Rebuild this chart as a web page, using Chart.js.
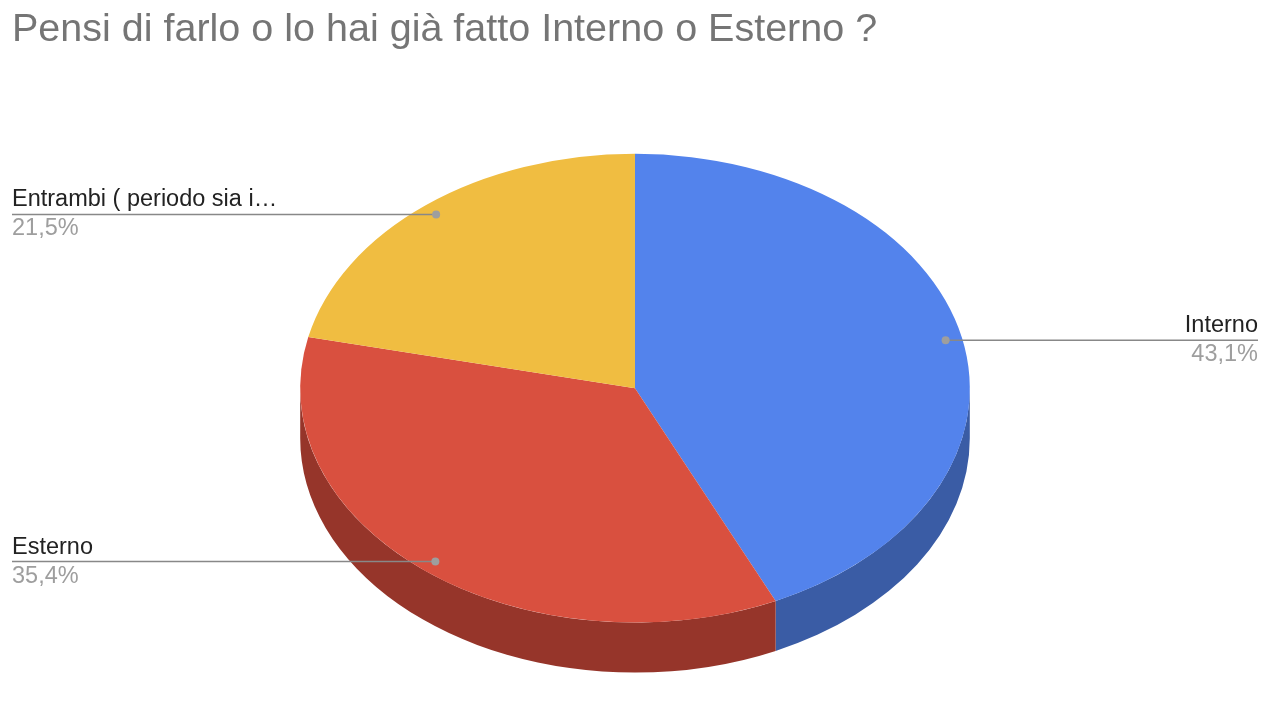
<!DOCTYPE html>
<html lang="it">
<head>
<meta charset="UTF-8">
<title>Pensi di farlo o lo hai già fatto Interno o Esterno ?</title>
<script src="https://cdn.jsdelivr.net/npm/chart.js"></script>
<style>
  html, body { margin: 0; padding: 0; background: #fff; }
  #wrap { width: 1268px; height: 728px; }
</style>
</head>
<body>
<div id="wrap"><canvas id="torta"></canvas></div>
<script>
const categorie = ["Interno", "Esterno", "Entrambi ( periodo sia i…"];
const percentuali = [43.1, 35.4, 21.5];
const coloriSopra = ["#5383ec", "#d9503f", "#f0bd41"];
const coloriLato = ["#3a5ca5", "#96352a", "#a8842e"];

const SCHIACCIA = 0.7;   // rapporto asse verticale / orizzontale
const SPESSORE = 50;     // altezza del bordo 3D
const FONT = "'Liberation Sans', Arial, sans-serif";

// disegna il bordo scuro (solo la metà davanti) e schiaccia la torta in un'ellisse
const torta3d = {
    id: 'torta3d',
    beforeDatasetsDraw(chart) {
        const ctx = chart.ctx;
        const archi = chart.getDatasetMeta(0).data;
        const cx = archi[0].x, cy = archi[0].y;
        archi.forEach((a, i) => {
            const s = Math.max(a.startAngle, 0);
            const e = Math.min(a.endAngle, Math.PI);
            if (e <= s) return;
            const rx = a.outerRadius, ry = a.outerRadius * SCHIACCIA;
            ctx.save();
            ctx.beginPath();
            ctx.ellipse(cx, cy, rx, ry, 0, s, e);
            ctx.ellipse(cx, cy + SPESSORE, rx, ry, 0, e, s, true);
            ctx.closePath();
            ctx.fillStyle = coloriLato[i];
            ctx.fill();
            ctx.restore();
        });
        ctx.save();
        ctx.translate(cx, cy);
        ctx.scale(1, SCHIACCIA);
        ctx.translate(-cx, -cy);
    },
    afterDatasetsDraw(chart) {
        chart.ctx.restore();
    },
    afterDraw(chart) {
        const ctx = chart.ctx;
        const area = chart.chartArea;
        const meta = chart.getDatasetMeta(0);
        meta.data.forEach((a, i) => {
            const mid = (a.startAngle + a.endAngle) / 2;
            const r = a.outerRadius * 0.95;
            const px = a.x + Math.cos(mid) * r;
            const py = a.y + Math.sin(mid) * r * SCHIACCIA;
            const destra = Math.cos(mid) >= 0;
            const xFine = destra ? area.right : area.left;

            ctx.save();
            ctx.strokeStyle = '#888888';
            ctx.lineWidth = 1.5;
            ctx.beginPath();
            ctx.moveTo(px, py);
            ctx.lineTo(xFine, py);
            ctx.stroke();
            ctx.fillStyle = '#9e9e9e';
            ctx.beginPath();
            ctx.arc(px, py, 4, 0, Math.PI * 2);
            ctx.fill();

            ctx.textAlign = destra ? 'right' : 'left';
            ctx.textBaseline = 'alphabetic';
            ctx.font = '23.5px ' + FONT;
            ctx.fillStyle = '#222222';
            ctx.fillText(categorie[i], xFine, py - 8);
            ctx.fillStyle = '#9e9e9e';
            ctx.fillText(percentuali[i].toFixed(1).replace('.', ',') + '%', xFine, py + 21);
            ctx.restore();
        });
    }
};

new Chart(document.getElementById('torta'), {
    type: 'pie',
    data: {
        labels: categorie,
        datasets: [{
            data: percentuali,
            backgroundColor: coloriSopra,
            borderWidth: 0,
            hoverOffset: 0,
            clip: false
        }]
    },
    options: {
        responsive: true,
        maintainAspectRatio: false,
        animation: false,
        events: [],
        layout: { padding: { left: 12, right: 10, top: 0, bottom: 5 } },
        plugins: {
            legend: { display: false },
            tooltip: { enabled: false },
            title: {
                display: true,
                text: 'Pensi di farlo o lo hai già fatto Interno o Esterno ?',
                align: 'start',
                color: '#757575',
                font: { family: FONT, size: 39.5, weight: 'normal' },
                padding: { top: 6, bottom: 0 }
            }
        }
    },
    plugins: [torta3d]
});
</script>
</body>
</html>
